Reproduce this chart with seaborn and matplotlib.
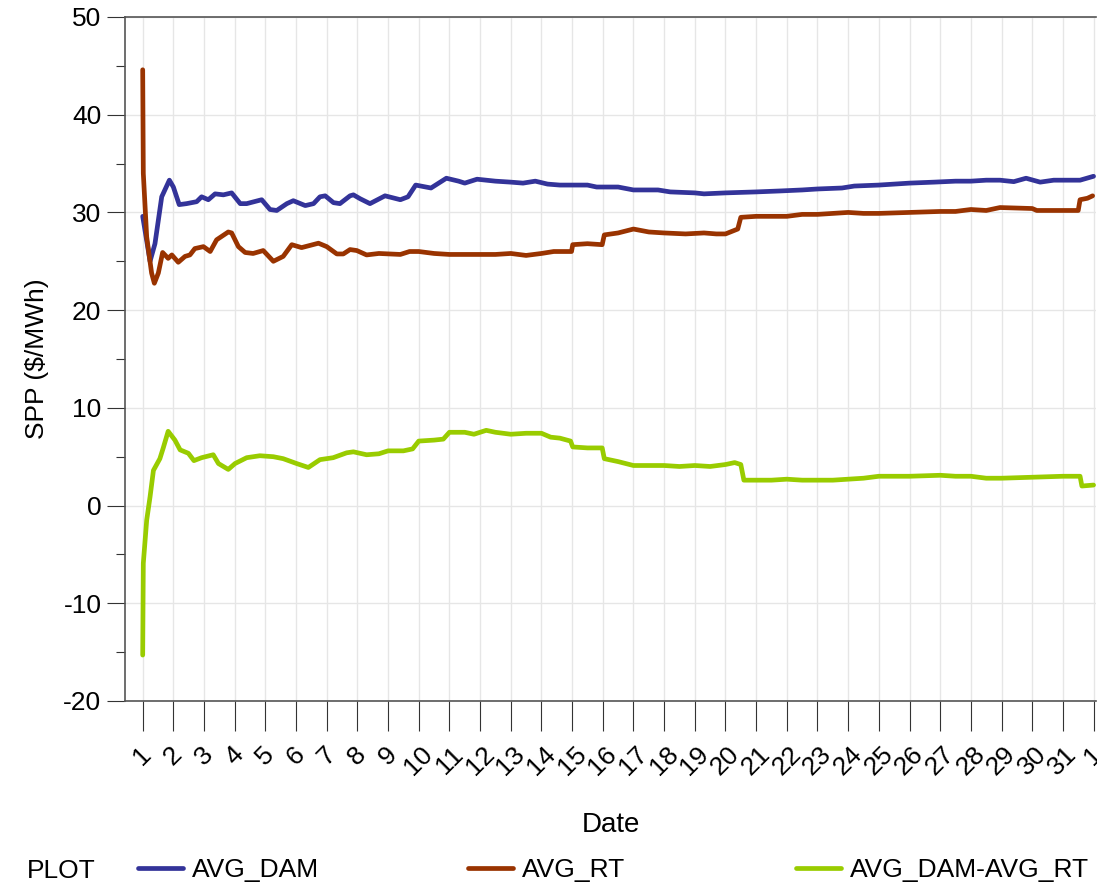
import numpy as np
import pandas as pd
import seaborn as sns
import matplotlib.pyplot as plt
from matplotlib.ticker import MultipleLocator

# day of month (fractional) and SPP values
dam_day = [1.0, 1.24, 1.4, 1.62, 1.87, 2.0, 2.19, 2.43, 2.76, 2.92,
           3.14, 3.36, 3.63, 3.9, 4.18, 4.39, 4.88, 5.15, 5.37, 5.7,
           5.91, 6.3, 6.57, 6.78, 6.95, 7.22, 7.43, 7.76, 7.87, 8.09,
           8.41, 8.9, 9.4, 9.65, 9.9, 10.4, 10.6, 10.9, 11.3, 11.5,
           11.9, 12.5, 13.0, 13.4, 13.8, 14.2, 14.6, 15.5, 15.8, 16.5,
           17.0, 17.8, 18.2, 19.0, 19.3, 20.0, 21.0, 21.8, 22.5, 23.0,
           23.8, 24.2, 25.0, 25.5, 26.0, 26.8, 27.5, 28.0, 28.5, 28.95,
           29.4, 29.8, 30.26, 30.7, 31.56, 32.0]
dam_spp = [29.6, 25.0, 26.8, 31.6, 33.3, 32.6, 30.8, 30.9, 31.1, 31.6,
           31.3, 31.9, 31.8, 32.0, 30.9, 30.9, 31.3, 30.3, 30.2, 30.9,
           31.2, 30.7, 30.9, 31.6, 31.7, 31.0, 30.9, 31.7, 31.8, 31.4,
           30.9, 31.7, 31.3, 31.6, 32.8, 32.5, 32.9, 33.5, 33.2, 33.0,
           33.4, 33.2, 33.1, 33.0, 33.2, 32.9, 32.8, 32.8, 32.6, 32.6,
           32.3, 32.3, 32.1, 32.0, 31.9, 32.0, 32.1, 32.2, 32.3, 32.4,
           32.5, 32.7, 32.8, 32.9, 33.0, 33.1, 33.2, 33.2, 33.3, 33.3,
           33.15, 33.5, 33.1, 33.3, 33.3, 33.7]

rt_day = [1.0, 1.02, 1.13, 1.29, 1.38, 1.51, 1.65, 1.83, 1.95, 2.16,
          2.38, 2.54, 2.7, 2.98, 3.2, 3.41, 3.79, 3.9, 4.12, 4.34,
          4.6, 4.93, 5.26, 5.58, 5.86, 6.18, 6.73, 7.0, 7.33, 7.54,
          7.76, 7.98, 8.3, 8.7, 9.4, 9.7, 10.0, 10.5, 11.0, 12.5,
          13.0, 13.5, 14.0, 14.4, 14.98, 15.02, 15.5, 15.98, 16.05, 16.5,
          17.0, 17.5, 18.0, 18.7, 19.3, 19.7, 20.0, 20.4, 20.5, 21.0,
          22.0, 22.5, 23.0, 24.0, 24.5, 25.0, 26.0, 27.0, 27.5, 28.0,
          28.5, 28.95, 30.0, 30.15, 31.5, 31.56, 31.8, 31.97]
rt_spp = [44.6, 34.0, 27.5, 23.8, 22.75, 23.8, 25.9, 25.3, 25.65, 24.9,
          25.5, 25.65, 26.3, 26.5, 26.0, 27.2, 28.0, 27.9, 26.5, 25.9,
          25.8, 26.1, 25.0, 25.5, 26.7, 26.4, 26.85, 26.5, 25.75, 25.75,
          26.2, 26.1, 25.65, 25.8, 25.7, 26.0, 26.0, 25.8, 25.7, 25.7,
          25.8, 25.6, 25.8, 26.0, 26.0, 26.7, 26.8, 26.7, 27.7, 27.9,
          28.3, 28.0, 27.9, 27.8, 27.9, 27.8, 27.8, 28.3, 29.5, 29.6,
          29.6, 29.8, 29.8, 30.0, 29.9, 29.9, 30.0, 30.1, 30.1, 30.3,
          30.2, 30.5, 30.4, 30.2, 30.2, 31.3, 31.45, 31.7]

diff_day = [1.0, 1.02, 1.13, 1.24, 1.35, 1.56, 1.67, 1.83, 2.05, 2.22,
            2.49, 2.67, 2.92, 3.3, 3.47, 3.79, 4.01, 4.39, 4.82, 5.26,
            5.58, 6.02, 6.4, 6.78, 7.21, 7.65, 7.87, 8.3, 8.7, 9.0,
            9.5, 9.8, 10.0, 10.5, 10.8, 11.0, 11.5, 11.8, 12.2, 12.5,
            13.0, 13.5, 14.0, 14.3, 14.6, 14.95, 15.02, 15.5, 15.98, 16.05,
            16.5, 17.0, 17.5, 18.0, 18.5, 19.0, 19.5, 20.0, 20.3, 20.5,
            20.6, 21.0, 21.5, 22.0, 22.5, 23.0, 23.5, 24.0, 24.5, 25.0,
            26.0, 27.0, 27.5, 28.0, 28.5, 29.0, 30.0, 31.0, 31.56, 31.62,
            32.0]
diff_spp = [-15.3, -5.9, -1.5, 0.9, 3.6, 4.8, 5.9, 7.6, 6.7, 5.7,
            5.35, 4.6, 4.9, 5.2, 4.3, 3.7, 4.3, 4.9, 5.1, 5.0,
            4.8, 4.3, 3.9, 4.7, 4.9, 5.4, 5.5, 5.2, 5.3, 5.6,
            5.6, 5.8, 6.6, 6.7, 6.8, 7.5, 7.5, 7.3, 7.7, 7.5,
            7.3, 7.4, 7.4, 7.0, 6.9, 6.6, 6.0, 5.9, 5.9, 4.8,
            4.5, 4.1, 4.1, 4.1, 4.0, 4.1, 4.0, 4.2, 4.4, 4.2,
            2.6, 2.6, 2.6, 2.7, 2.6, 2.6, 2.6, 2.7, 2.8, 3.0,
            3.0, 3.1, 3.0, 3.0, 2.8, 2.8, 2.9, 3.0, 3.0, 2.0,
            2.1]

day_ticks = list(range(1, 33))
day_labels = [str(d) for d in range(1, 32)] + ["1"]

names = ["AVG_DAM", "AVG_RT", "AVG_DAM-AVG_RT"]
colors = ["#333399", "#993300", "#99cc00"]

df = pd.concat([
    pd.DataFrame({"Date": dam_day, "SPP": dam_spp, "PLOT": names[0]}),
    pd.DataFrame({"Date": rt_day, "SPP": rt_spp, "PLOT": names[1]}),
    pd.DataFrame({"Date": diff_day, "SPP": diff_spp, "PLOT": names[2]}),
], ignore_index=True)

sns.set_theme(style="white")
plt.rcParams["font.family"] = ["Liberation Sans", "DejaVu Sans"]
plt.rcParams["axes.unicode_minus"] = False
plt.rcParams["text.color"] = "black"
plt.rcParams["axes.labelcolor"] = "black"

fig = plt.figure(figsize=(10.97, 8.86), dpi=100)
ax = fig.add_axes([125 / 1097, 1 - 701 / 886, 971 / 1097, 684 / 886])

sns.lineplot(data=df, x="Date", y="SPP", hue="PLOT", hue_order=names,
             palette=colors, estimator=None, sort=False, lw=3.4,
             ax=ax, legend=False)

ax.set_xlim(0.423, 32.08)
ax.set_ylim(-20, 50)
ax.set_xticks(day_ticks)
ax.set_xticklabels(day_labels, rotation=45, ha="center")
ax.set_yticks(range(-20, 51, 10))
ax.yaxis.set_minor_locator(MultipleLocator(5))

ax.grid(True, which="major", color="#e6e6e6", lw=1)
ax.set_axisbelow(True)

ax.tick_params(axis="x", which="major", bottom=True, length=21.6, width=0.8,
               color="#333333", pad=8, labelsize=19, labelcolor="black")
ax.tick_params(axis="y", which="major", left=True, length=13, width=0.8,
               color="#333333", pad=4, labelsize=19, labelcolor="black")
ax.tick_params(axis="y", which="minor", left=True, length=6.5, width=0.8,
               color="#333333")

for s in ["left", "bottom", "top"]:
    ax.spines[s].set_color("#555555")
    ax.spines[s].set_linewidth(1.2)
ax.spines["right"].set_visible(False)

ax.set_xlabel("Date", fontsize=20)
ax.set_ylabel("SPP ($/MWh)", fontsize=19)
ax.xaxis.set_label_coords(0.5, -0.163)
ax.yaxis.set_label_coords(-0.078, 0.5)

# bottom legend: "PLOT" title then three entries spread across the width
fig.text(27 / 1097, 1 - 871 / 886, "PLOT", fontsize=19, va="center", ha="left")
handles = ax.get_lines()
starts = [138, 468, 796]
for h, name, x0 in zip(handles, names, starts):
    fig.legend([h], [name], loc="center left",
               bbox_to_anchor=(x0 / 1097, 1 - 870 / 886),
               frameon=False, borderpad=0, borderaxespad=0,
               handlelength=1.7, handletextpad=0.34, fontsize=19,
               labelcolor="black")

fig.savefig("out.png", dpi=100)
